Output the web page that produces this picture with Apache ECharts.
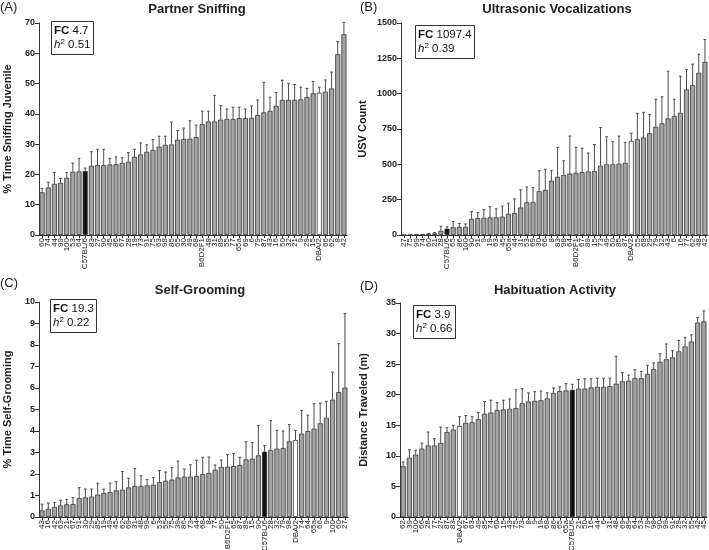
<!DOCTYPE html>
<html><head><meta charset="utf-8">
<script src="https://cdn.jsdelivr.net/npm/echarts@6/dist/echarts.min.js"></script>
<style>html,body{margin:0;padding:0;background:#fff}#c{width:709px;height:550px}</style>
</head><body><div id="c"></div>
<script>
// (A) Partner Sniffing
const sniffStrains = ['60','74','44','99','100','53','64','C57BL/6','83','27','90','45','86','67','28','19','73','91','75','63','98','85','65','30','49','68','B6D2F1','48','31','89','55','77','65a','69','6','79','87','43','16','50','32','21','9','29','15','DBA/2','66','62','8','42'];
const sniffMean = [14.1,15.7,16.9,17.2,18.9,20.9,21.0,21.1,22.9,23.1,23.1,23.3,23.4,23.8,24.2,25.8,26.6,27.5,28.1,29.2,29.8,29.9,31.5,31.7,31.8,32.3,36.6,37.5,37.5,38.1,38.3,38.3,38.6,38.6,38.7,39.6,40.5,41.0,42.6,44.6,44.6,44.6,44.8,45.6,46.8,47.0,47.3,48.4,59.7,66.3];
const sniffUpper = [15.4,17.4,20.7,18.7,20.6,23.7,25.3,22.1,27.5,28.3,28.3,25.3,25.8,25.5,27.2,28.3,30.4,29.8,31.5,32.6,32.6,37.3,34.5,35.3,37.7,36.3,40.9,40.9,46.1,42.7,41.6,42.2,42.2,41.6,42.6,44.6,50.4,45.5,47.1,51.1,50.1,49.7,48.8,48.4,50.7,48.8,51.2,53.8,63.9,70.2];
const sniffTicks = [0,10,20,30,40,50,60,70];

// (B) Ultrasonic Vocalizations
const usvStrains = ['27','75','99','74','60','21','28','C57BL/6','65','86','100','90','91','9','19','63','45','65a','44','31','53','69','30','66','8','83','98','64','B6D2F1','67','89','15','73','49','50','85','87','DBA/2','55','68','29','79','32','43','6','16','77','62','48','42'];
const usvMean = [0,1,3,5,8,12,30,45,55,57,58,115,120,122,125,125,130,150,155,195,232,232,310,320,385,412,425,435,440,445,450,452,490,500,500,505,510,665,678,690,720,766,790,825,842,865,1030,1061,1148,1225];
const usvUpper = [null,null,null,null,12,18,62,58,95,82,78,165,160,180,200,185,205,225,255,320,340,335,455,465,455,620,525,700,620,615,580,640,760,695,660,700,655,720,861,868,854,960,978,1159,960,1124,1171,1209,1279,1383];
const usvTicks = [0,250,500,750,1000,1250,1500];

// (C) Self-Grooming
const groomStrains = ['43','16','42','63','21','67','91','30','29','85','19','49','45','62','69','31','48','99','6','53','55','75','39','86','73','44','68','8','77','50','B6D2F1','65','87','89','15','90','C57BL/6','28','32','79','98','DBA/2','74','64','65a','66','9','100','60','27'];
const groomMean = [0.31,0.39,0.47,0.54,0.59,0.60,0.88,0.91,0.95,1.04,1.12,1.16,1.24,1.27,1.38,1.44,1.44,1.47,1.50,1.63,1.69,1.74,1.84,1.88,1.88,1.91,2.00,2.05,2.20,2.33,2.34,2.37,2.42,2.68,2.71,2.87,3.04,3.12,3.18,3.21,3.52,3.58,3.88,4.00,4.11,4.36,4.62,5.46,5.81,6.02];
const groomUpper = [0.60,0.65,0.68,0.78,0.82,0.90,1.36,1.30,1.30,1.57,1.30,1.58,1.64,2.12,1.80,2.25,1.92,1.75,1.83,2.16,2.09,2.29,2.60,2.23,2.43,2.64,2.78,2.79,2.42,2.65,2.90,2.95,2.78,3.50,3.46,4.26,3.32,4.48,4.03,4.00,4.30,4.02,4.96,4.74,5.27,5.30,5.38,6.74,8.06,9.46];
const groomTicks = [0,1,2,3,4,5,6,7,8,9,10];

// (D) Habituation Activity
const habStrains = ['62','39','100','66','28','77','27','87','83','DBA/2','67','63','49','85','74','60','15','43','75','73','8','9','19','68','86','65','65a','C57BL/6','21','50','16','44','6','31','48','69','89','64','53','79','98','90','99','91','29','32','55','42','45'];
const habMean = [8.3,9.7,10.2,11.2,11.7,11.7,12.1,13.9,14.3,14.9,15.4,15.5,16.0,16.9,17.1,17.5,17.6,17.7,17.8,18.6,18.9,19.0,19.1,19.4,20.3,20.6,20.7,20.8,21.0,21.0,21.2,21.3,21.3,21.4,21.8,22.2,22.3,22.7,22.7,23.4,24.2,25.4,25.8,26.1,27.1,27.9,28.7,31.8,32.0];
const habUpper = [9.0,11.0,10.9,12.1,13.9,12.8,14.7,14.6,15.0,16.4,16.6,16.4,17.1,18.9,19.1,18.7,19.1,19.3,20.8,21.0,20.3,20.5,20.6,20.3,21.1,21.3,21.8,21.7,22.5,22.6,22.6,22.7,22.7,22.7,26.3,23.6,23.2,24.1,23.8,24.8,25.2,26.7,28.3,27.2,28.9,29.4,29.8,32.6,33.7];
const habTicks = [0,5,10,15,20,25,30,35];

const FONT = 'Liberation Sans, Arial, sans-serif';
const panels = [
  {strains:sniffStrains, mean:sniffMean, upper:sniffUpper, ticks:sniffTicks, name:'% Time Sniffing Juvenile', gap:26,
   grid:{left:39,top:23,width:308,height:212}},
  {strains:usvStrains, mean:usvMean, upper:usvUpper, ticks:usvTicks, name:'USV Count', gap:33,
   grid:{left:401,top:23,width:307,height:212}},
  {strains:groomStrains, mean:groomMean, upper:groomUpper, ticks:groomTicks, name:'% Time Self-Grooming', gap:26,
   grid:{left:39,top:302,width:309,height:215}},
  {strains:habStrains, mean:habMean, upper:habUpper, ticks:habTicks, name:'Distance Traveled (m)', gap:31,
   grid:{left:400,top:303,width:307,height:214}}
];

function barColor(s){ return s==='C57BL/6' ? '#111111' : (s==='DBA/2' ? '#ffffff' : '#a4a4a4'); }

const grids=[], xAxes=[], yAxes=[], series=[];
panels.forEach((p,i)=>{
  grids.push(Object.assign({outerBoundsMode:'none', containLabel:false}, p.grid));
  xAxes.push({type:'category', gridIndex:i, data:p.strains,
    axisLine:{show:true, lineStyle:{color:'#333', width:1}},
    axisTick:{show:true, alignWithLabel:true, length:3, lineStyle:{color:'#333'}},
    axisLabel:{rotate:90, interval:0, fontSize:8, color:'#222', margin:3, fontFamily:FONT,
      hideOverlap:false, overflow:'none', width:80}});
  const mx = p.ticks[p.ticks.length-1];
  yAxes.push({type:'value', gridIndex:i, min:0, max:mx, interval:p.ticks[1]-p.ticks[0],
    name:p.name, nameLocation:'middle', nameGap:p.gap,
    nameTextStyle:{fontSize:11, fontWeight:'bold', color:'#222', fontFamily:FONT},
    axisLine:{show:true, lineStyle:{color:'#333', width:1}},
    axisTick:{show:true, length:4, lineStyle:{color:'#333'}},
    axisLabel:{fontSize:9, fontWeight:'bold', color:'#222', margin:4, fontFamily:FONT,
      formatter:(v)=>String(v)},
    splitLine:{show:false}});
  series.push({type:'custom', xAxisIndex:i, yAxisIndex:i, z:1, silent:true,
    data:p.mean.map((v,j)=>[j, v, p.upper[j]==null ? v : p.upper[j]]),
    encode:{x:0, y:[1,2]},
    renderItem:(params, api)=>{
      const x = api.value(0), lo = api.value(1), hi = api.value(2);
      if (!(hi > lo)) return null;
      const a = api.coord([x, lo]), b = api.coord([x, hi]);
      const w = api.size([1,0])[0]*0.22;
      const st = {stroke:'#4a4a4a', lineWidth:1};
      return {type:'group', children:[
        {type:'line', shape:{x1:a[0], y1:a[1], x2:b[0], y2:b[1]}, style:st},
        {type:'line', shape:{x1:b[0]-w, y1:b[1], x2:b[0]+w, y2:b[1]}, style:st}
      ]};
    }});
  series.push({type:'bar', xAxisIndex:i, yAxisIndex:i, z:2, barCategoryGap:'18%',
    data:p.mean.map((v,j)=>({value:v, itemStyle:{color:barColor(p.strains[j])}})),
    itemStyle:{borderColor:'#333', borderWidth:0.8}});
});

const rich = {
  b:{fontWeight:'bold', fontSize:11.5, fontFamily:FONT, color:'#111'},
  n:{fontSize:11.5, fontFamily:FONT, color:'#111'},
  i:{fontStyle:'italic', fontSize:11.5, fontFamily:FONT, color:'#111'},
  s:{fontSize:8, fontFamily:FONT, color:'#111', padding:[0,0,6,0]}
};
function box(left, top, fc, h2){
  return {left:left, top:top, text:'{b|FC} {n|'+fc+'}\n{i|h}{s|2}{n| '+h2+'}',
    borderColor:'#333', borderWidth:1, padding:[3,3,3,3], itemGap:0,
    textStyle:{fontSize:11.5, lineHeight:14, fontWeight:'normal', rich:rich}};
}
const ttl = (text, x, y)=>({text:text, left:x, top:y, textAlign:'center',
  textStyle:{fontSize:13, fontWeight:'bold', color:'#222', fontFamily:FONT}});
const lab = (text, x, y)=>({text:text, left:x, top:y,
  textStyle:{fontSize:13, fontWeight:'normal', color:'#222', fontFamily:FONT}});

const chart = echarts.init(document.getElementById('c'), null, {renderer:'canvas'});
chart.setOption({
  backgroundColor:'#fff', animation:false,
  title:[
    lab('(A)', -5, -4), lab('(B)', 355, -4), lab('(C)', -5, 272), lab('(D)', 355, 275),
    ttl('Partner Sniffing', 192, -2), ttl('Ultrasonic Vocalizations', 552, -2),
    ttl('Self-Grooming', 195, 279), ttl('Habituation Activity', 550, 279),
    box(51, 21, '4.7', '0.51'), box(415, 25, '1097.4', '0.39'),
    box(50, 299, '19.3', '0.22'), box(413, 305, '3.9', '0.66')
  ],
  grid:grids, xAxis:xAxes, yAxis:yAxes, series:series
});
</script></body></html>
